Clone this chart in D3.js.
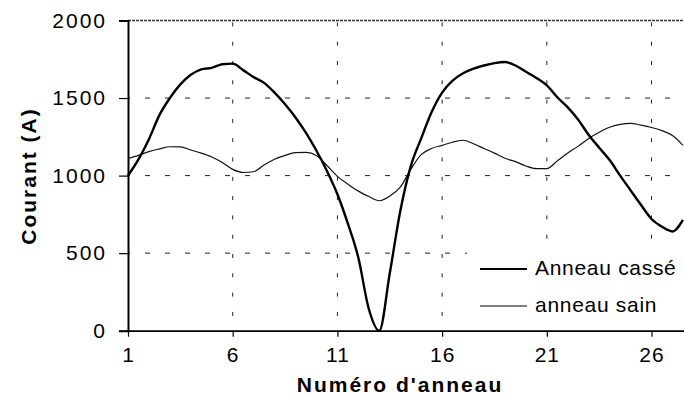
<!DOCTYPE html>
<html><head><meta charset="utf-8">
<script src="https://cdn.jsdelivr.net/npm/d3@7"></script>
<style>body{margin:0;background:#fff}svg{display:block}text{font-family:"Liberation Sans",Arial,sans-serif;fill:#000}</style>
</head><body>
<svg id="c" width="684" height="405"></svg>
<script>
const rings = [1,1.5,2,2.5,3,3.5,4,4.5,5,5.5,6,6.5,7,7.5,8,8.5,9,9.5,10,10.5,11,11.5,12,12.5,13,13.5,14,14.5,15,15.5,16,16.5,17,17.5,18,18.5,19,19.5,20,20.5,21,21.5,22,22.5,23,23.5,24,24.5,25,25.5,26,26.5,27,27.5];
const anneauCasse = [1000,1105,1235,1390,1500,1588,1650,1685,1695,1718,1722,1680,1635,1598,1535,1460,1375,1275,1160,1030,880,690,470,140,0,370,770,1060,1240,1410,1535,1612,1660,1690,1710,1725,1732,1710,1670,1630,1582,1505,1440,1360,1262,1180,1100,1000,905,810,720,670,640,715];
const anneauSain = [1110,1130,1155,1172,1186,1185,1165,1145,1120,1085,1040,1020,1025,1068,1105,1130,1148,1150,1130,1065,995,945,900,865,838,868,925,1040,1135,1175,1195,1215,1228,1205,1175,1145,1112,1090,1062,1045,1045,1095,1145,1190,1240,1280,1312,1330,1337,1325,1310,1290,1258,1195];
const xTicks = [1,6,11,16,21,26];
const yTicks = [0,500,1000,1500,2000];
const seriesNames = ["Anneau cassé","anneau sain"];
const xTitle = "Numéro d'anneau";
const yTitle = "Courant (A)";

const svg = d3.select("#c");
const x = d3.scaleLinear().domain([1, 27.55]).range([128, 684]);
const y = d3.scaleLinear().domain([0, 2000]).range([330.7, 20.5]);

// grid
const g = svg.append("g");
g.selectAll("line.hg").data(yTicks.filter(v => v > 0 && v < 2000)).enter().append("line")
  .attr("x1", x(1)).attr("x2", 684).attr("y1", d => y(d)).attr("y2", d => y(d))
  .attr("stroke", "#222").attr("stroke-width", 1).attr("stroke-dasharray", "5,15").attr("stroke-dashoffset", 3);
g.selectAll("line.vg").data(xTicks.filter(v => v > 1)).enter().append("line")
  .attr("x1", d => x(d)).attr("x2", d => x(d)).attr("y1", y(2000)).attr("y2", y(0))
  .attr("stroke", "#222").attr("stroke-width", 1).attr("stroke-dasharray", "4,15.3").attr("stroke-dashoffset", 17.4);
// top border
svg.append("line").attr("x1", x(1)).attr("x2", 684).attr("y1", y(2000)).attr("y2", y(2000))
  .attr("stroke", "#333").attr("stroke-width", 1.3).attr("stroke-dasharray", "3,1");

// lines
const pts = vals => rings.map((r, i) => [r, vals[i]]);
const line = d3.line().x(d => x(d[0])).y(d => y(d[1])).curve(d3.curveMonotoneX);
svg.append("path").attr("d", line(pts(anneauSain))).attr("fill", "none").attr("stroke", "#111").attr("stroke-width", 1.2);
svg.append("path").attr("d", line(pts(anneauCasse))).attr("fill", "none").attr("stroke", "#000").attr("stroke-width", 2.4);

// legend
const lg = svg.append("g");
lg.append("rect").attr("x", 467).attr("y", 240).attr("width", 217).attr("height", 89).attr("fill", "#fff");
const lw = [2.2, 1.2];
seriesNames.forEach((s, i) => {
  const ly = 269 + i * 37;
  lg.append("line").attr("x1", 480).attr("x2", 527).attr("y1", ly).attr("y2", ly).attr("stroke", "#000").attr("stroke-width", lw[i]);
  lg.append("text").attr("x", 535).attr("y", ly + 6).attr("font-size", 21).attr("letter-spacing", 0.7).text(s);
});

// axes
const yAxis = d3.axisLeft(y).tickValues(yTicks).tickSize(9).tickPadding(14).tickFormat(d3.format("d"));
const ya = svg.append("g").attr("transform", `translate(${x(1)},0)`).call(yAxis);
ya.select(".domain").attr("stroke", "#000").attr("stroke-width", 2);
ya.selectAll(".tick line").attr("stroke", "#000").attr("stroke-width", 1.2);
ya.selectAll(".tick text").attr("font-size", 21).attr("letter-spacing", 2).attr("font-family", "Liberation Sans, Arial, sans-serif").attr("dx", 2);

const xAxis = d3.axisBottom(x).tickValues(xTicks).tickSize(6).tickPadding(10).tickSizeOuter(0);
const xa = svg.append("g").attr("transform", `translate(0,${y(0)})`).call(xAxis);
xa.select(".domain").attr("stroke", "#000").attr("stroke-width", 1.8);
xa.selectAll(".tick line").attr("stroke", "#000").attr("stroke-width", 1.2);
xa.selectAll(".tick text").attr("font-size", 21).attr("letter-spacing", 1).attr("font-family", "Liberation Sans, Arial, sans-serif");

// titles
svg.append("text").attr("x", 400).attr("y", 392).attr("text-anchor", "middle")
  .attr("font-size", 21).attr("font-weight", "bold").attr("letter-spacing", 2).text(xTitle);
svg.append("text").attr("transform", "translate(36,176) rotate(-90)").attr("text-anchor", "middle")
  .attr("font-size", 21).attr("font-weight", "bold").attr("letter-spacing", 2).text(yTitle);
</script>
</body></html>
